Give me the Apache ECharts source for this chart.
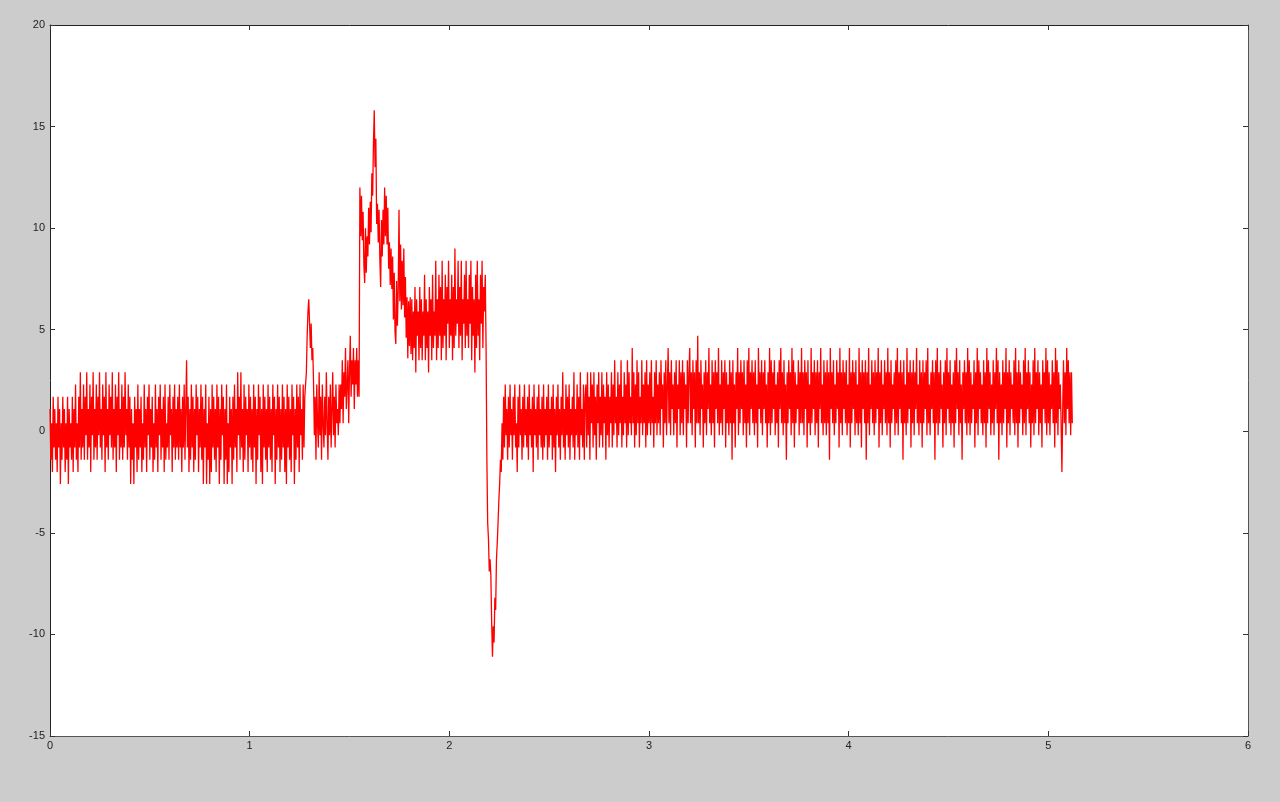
<!DOCTYPE html>
<html>
<head>
<meta charset="utf-8">
<script src="https://cdn.jsdelivr.net/npm/echarts@6/dist/echarts.min.js"></script>
<style>
html,body{margin:0;padding:0;background:#cccccc;}
#chart{width:1280px;height:802px;}
</style>
</head>
<body>
<div id="chart"></div>
<script>
// Sample period of the recorded signal (x axis units per sample)
const SAMPLE_DT = 0.004;

// Axis tick values
const xTicks = [0, 1, 2, 3, 4, 5, 6];
const yTicks = [-15, -10, -5, 0, 5, 10, 15, 20];

// Signal values
const baselineA = [
  1.1, -1.4, 0.4, -2.0, 1.7, -0.8, 1.1, -1.4, 0.4, -2.0,
  1.7, -0.8, 1.1, -2.6, 0.4, -1.4, 1.7, -0.8, 1.1, -2.0,
  0.4, -1.4, 1.7, -2.6, 1.1, -0.8, 0.4, -1.4, 1.7, -2.0,
  1.1, -0.8, 2.3, -1.4, 0.4, -2.0, 1.7, -0.8, 2.9, -1.4,
  1.1, -0.8, 2.3, -1.4, 1.7, -0.2, 2.9, -1.4, 1.1, -0.8,
  2.3, -2.0, 1.7, -0.2, 2.9, -1.4, 1.1, -0.8, 2.3, -1.4,
  1.7, -0.2, 2.9, -0.8, 1.1, -1.4, 2.3, -0.2, 1.7, -2.0,
  2.9, -0.8, 1.1, -1.4, 2.3, -0.2, 1.7, -0.8, 2.9, -1.4,
  1.1, -0.8, 2.3, -2.0, 1.7, -0.2, 2.9, -1.4, 1.1, -0.8,
  2.3, -1.4, 1.7, -0.8, 2.9, -0.2, 1.1, -1.4, 2.3, -0.8,
  1.7, -2.6, 1.1, -1.4, 0.4, -2.6, 1.7, -0.8, 1.1, -2.0,
  2.3, -1.4, 1.1, -0.8, 1.7, -2.0, 0.4, -1.4, 2.3, -0.8,
  1.1, -2.0, 1.7, -0.2, 2.3, -1.4, 1.1, -0.8, 1.7, -2.0,
  0.4, -1.4, 2.3, -0.8, 1.1, -2.0, 1.7, -0.2, 2.3, -1.4,
  1.1, -0.8, 1.7, -2.0, 2.3, -1.4, 0.4, -0.8, 1.7, -1.4,
  2.3, -0.2, 1.1, -2.0, 1.7, -0.8, 2.3, -1.4, 1.1, -0.8,
  1.7, -1.4, 2.3, -0.8, 1.1, -2.0, 1.7, -0.8, 2.3, -1.4,
  1.1, 3.5, -0.8, 1.7, -2.0, 1.1, -1.4, 2.3, -0.8, 1.7,
  -2.0, 1.1, -1.4, 2.3, -0.2, 1.7, -2.0, 1.1, -0.8, 2.3,
  -1.4, 1.7, -2.6, 1.1, -0.8, 2.3, -2.6, 0.4, -1.4, 1.7,
  -2.6, 1.1, -2.0, 2.3, -0.8, 1.7, -1.4, 1.1, -2.0, 2.3,
  -0.8, 1.7, -2.6, 1.1, -1.4, 2.3, -0.2, 1.7, -2.6, 1.1,
  -1.4, 2.3, -2.6, 0.4, -2.0, 1.7, -0.8, 1.1, -2.6, 1.7,
  -1.4, 2.3, -0.8, 1.1, -2.0, 2.9, -0.2, 1.7, -1.4, 2.9,
  -0.8, 1.1, -2.0, 2.3, -1.4, 1.7, -0.2, 1.1, -2.0, 2.3,
  -0.8, 1.7, -1.4, 1.1, -2.0, 2.3, -0.8, 1.7, -2.6, 1.1,
  -1.4, 2.3, -0.2, 1.7, -2.0, 1.1, -2.6, 2.3, -0.8, 1.7,
  -1.4, 1.1, -2.0, 2.3, -0.8, 1.7, -1.4, 1.1, -2.0, 2.3,
  -0.2, 1.7, -2.6, 1.1, -1.4, 2.3, -0.8, 1.7, -2.0, 1.1,
  -1.4, 2.3, -0.8, 1.7, -2.0, 1.1, -2.6, 2.3, -0.8, 1.7,
  -1.4, 1.1, -2.0, 2.3, -0.2, 1.7, -2.6, 1.1, -1.4, 2.3,
  -0.8, 1.7, -2.0, 2.3, -0.2, 1.1, -1.4, 2.3, -0.8, 1.7,
  2.3
];
const firstSpike = [2.9, 4.7, 5.9, 6.5, 5.3, 4.1, 5.3, 3.5, 4.1, 2.3];
const interval1 = [
  -0.2, 1.7, -1.4, 2.3, 0.4, -0.8, 2.9, -0.2, 1.7, -1.4,
  2.3, 0.4, -0.8, 1.7, -0.2, 2.9, 0.4, -1.4, 1.7, -0.2,
  2.3, -0.8, 1.1, 2.9, -0.2, 1.7, -0.8, 2.3, 0.4, 1.1,
  -0.2, 2.3
];
const riseB = [
  0.4, 2.3, 1.1, 3.5, 0.4, 2.9, 1.7, 4.1, 1.1, 2.3,
  3.5, 0.4, 2.9, 4.7, 1.7, 3.5, 2.3, 4.1, 1.1, 3.5,
  2.3, 4.1, 1.7, 3.5, 1.7
];
const peak = [
  12.0, 9.6, 11.6, 9.4, 10.8, 8.2, 7.3, 10.0, 7.8, 9.6,
  8.6, 11.0, 9.2, 11.3, 9.8, 12.7, 11.6, 14.2, 15.8, 13.0,
  14.4, 10.2, 11.2, 9.3, 10.9, 8.5, 7.1, 10.4, 8.6, 10.9,
  9.2, 12.0, 9.6, 11.6, 9.2, 11.0, 8.0, 9.3, 7.2, 9.0,
  7.0, 8.6, 5.5, 7.8, 4.9, 4.3, 7.4, 5.2, 7.0, 10.9,
  6.4, 9.2, 6.0, 8.4, 6.2, 9.0, 5.6, 7.6, 4.6, 6.6,
  3.6, 6.4, 4.2, 6.6, 3.8
];
const plateau = [
  6.5, 3.5, 5.9, 4.1, 7.1, 2.9, 6.5, 4.7, 5.9, 3.5,
  7.1, 4.1, 6.5, 3.5, 5.9, 4.7, 7.7, 3.5, 6.5, 4.1,
  5.9, 2.9, 7.1, 4.7, 6.5, 3.5, 7.7, 4.1, 5.9, 4.7,
  8.4, 3.5, 6.5, 4.1, 7.7, 4.7, 7.1, 3.5, 8.4, 4.1,
  6.5, 4.7, 7.7, 3.5, 7.1, 5.3, 8.4, 4.1, 6.5, 4.7,
  7.7, 3.5, 7.1, 4.1, 9.0, 4.7, 6.5, 5.3, 8.4, 4.1,
  7.1, 4.7, 8.4, 3.5, 6.5, 5.3, 7.7, 4.1, 8.4, 4.7,
  6.5, 4.1, 7.7, 5.3, 8.4, 3.5, 7.1, 4.7, 6.5, 2.9,
  7.7, 4.1, 8.4, 4.7, 6.5, 3.5, 7.7, 5.3, 8.4, 4.1,
  7.1, 5.9
];
const dip = [
  7.7, 4.1, -1.4, -4.5, -5.3, -6.9, -6.3, -7.1, -9.4, -11.1,
  -9.6, -10.4, -8.2, -8.8, -6.3, -5.5, -4.5, -3.4, -2.6, -1.4,
  -2.0, 0.4, -1.4
];
const recovery = [
  1.7, -0.8, 2.3, -0.2, 1.1, -1.4, 1.7, -0.8, 2.3, -0.2,
  1.1, -1.4, 1.7, -0.2, 2.3, -0.8, 0.4, -2.0, 1.7, -0.8,
  2.3, -0.2, 1.1, -1.4, 1.7, -0.8, 2.3, -0.2, 1.1, -0.8,
  1.7, -1.4, 2.3, -0.2, 1.1, -0.8, 1.7, -2.0, 2.3, -0.2,
  1.1, -0.8, 1.7, -1.4, 2.3, -0.2, 1.1, -0.8, 1.7, -1.4,
  2.3, -0.8, 1.1, -0.2, 1.7, -1.4, 2.3, -0.8, 1.1, -0.2,
  1.7, -1.4, 2.3, -0.8, 1.1, -2.0, 1.7, -0.2, 2.3, -0.8,
  1.1, -1.4, 1.7, -0.2, 2.9, -0.8, 1.1, -1.4, 2.3, -0.2,
  1.7, -0.8, 2.3, -1.4, 1.1, -0.2, 1.7, -0.8, 2.9, -1.4,
  1.1, -0.2, 2.3, -0.8, 1.7, -1.4, 2.9, -0.2, 1.1, -0.8,
  2.3, -1.4, 1.7
];
const drift = [
  2.3, -0.8, 2.9, -0.2, 1.7, -1.4, 2.9, 0.4, 2.3, -0.8,
  2.9, -0.2, 1.7, -1.4, 2.3, 0.4, 2.9, -0.8, 1.7, -0.2,
  2.9, -0.8, 2.3, 0.4, 1.7, -1.4, 2.9, -0.2, 2.3, -0.8,
  1.7, 0.4, 2.9, -0.8, 2.3, -0.2, 3.5, 0.4, 1.7, -0.8,
  2.9, -0.2, 2.3, 0.4, 3.5, -0.8, 1.7, -0.2, 2.9, 0.4,
  2.3, -0.8, 3.5, -0.2, 2.9, 0.4, 1.7, -0.2, 4.1, 0.4,
  2.9, -0.8, 2.3, -0.2, 3.5, 0.4, 2.9, -0.8, 1.7, 0.4,
  3.5, -0.2, 2.3, 0.4, 2.9, -0.8, 3.5, -0.2, 2.3, 0.4,
  2.9, -0.2, 3.5, 0.4, 1.7, -0.8, 2.9, 0.4, 3.5, -0.2,
  2.3, 0.4, 2.9, -0.2, 3.5, 1.1, 2.3, -0.8, 2.9, 0.4,
  3.5, -0.2, 2.3, 4.1, 0.4, 2.9, -0.2, 3.5, 1.1, 2.3,
  -0.2, 2.9, 0.4, 3.5, -0.8, 2.3, 1.1, 3.5, -0.2, 2.9,
  0.4, 3.5, -0.2, 2.9, 1.1, 2.3, -0.8, 3.5, 0.4, 2.9
];
const baselineC = [
  4.1, 0.4, 2.9, -0.2, 3.5, 1.1, 2.9, -0.8, 3.5, 0.4,
  4.7, 0.4, 2.9, -0.2, 3.5, 1.1, 2.3, -0.8, 2.9, 0.4,
  3.5, -0.2, 2.9, 1.1, 4.1, 0.4, 2.3, -0.2, 3.5, 0.4,
  2.9, -0.8, 3.5, 1.1, 2.9, 0.4, 4.1, -0.2, 2.3, 0.4,
  3.5, -0.2, 2.9, 1.1, 3.5, -0.8, 2.9, 0.4, 2.3, -0.2,
  3.5, 0.4, 2.9, -1.4, 3.5, 0.4, 2.3, -0.8, 2.9, 1.1,
  4.1, -0.2, 2.9, 0.4, 3.5, 1.1, 2.9, -0.2, 3.5, 0.4,
  2.3, -0.8, 3.5, 0.4, 4.1, -0.2, 2.9, 1.1, 3.5, 0.4,
  2.9, -0.2, 3.5, 0.4, 2.3, -0.8, 4.1, 1.1, 2.9, 0.4,
  3.5, -0.2, 2.9, 1.1, 3.5, 0.4, 2.3, -0.8, 2.9, 0.4,
  4.1, -0.2, 3.5, 0.4, 2.9, 1.1, 3.5, -0.2, 2.3, 0.4,
  2.9, -0.8, 3.5, 1.1, 4.1, 0.4, 2.9, -0.2, 3.5, 0.4,
  2.3, -1.4, 2.9, 0.4, 3.5, 1.1, 2.9, -0.2, 4.1, 0.4,
  3.5, -0.8, 2.9, 0.4, 2.3, 1.1, 3.5, -0.2, 2.9, 0.4,
  4.1, 0.4, 2.9, -0.2, 3.5, 1.1, 2.9, -0.8, 3.5, 0.4,
  2.3, -0.2, 4.1, 0.4, 2.9, 1.1, 3.5, -0.2, 2.9, 0.4,
  3.5, -0.8, 2.9, 1.1, 4.1, 0.4, 2.3, -0.2, 3.5, 0.4,
  2.9, -0.2, 3.5, 0.4, 2.9, -1.4, 4.1, 1.1, 2.9, 0.4,
  3.5, -0.2, 2.3, 0.4, 3.5, 1.1, 2.9, -0.8, 4.1, 0.4,
  2.9, -0.2, 3.5, 1.1, 2.9, 0.4, 3.5, -0.2, 2.3, 0.4,
  4.1, -0.8, 2.9, 0.4, 3.5, 1.1, 2.9, -0.2, 3.5, 0.4,
  2.3, -0.2, 4.1, 0.4, 2.9, -0.8, 3.5, 1.1, 2.9, 0.4,
  3.5, -1.4, 2.9, 0.4, 4.1, -0.2, 2.3, 1.1, 3.5, 0.4,
  2.9, -0.2, 3.5, 0.4, 2.9, 1.1, 4.1, -0.8, 2.9, 0.4,
  3.5, -0.2, 2.3, 1.1, 3.5, 0.4, 2.9, -0.2, 4.1, 0.4,
  2.9, -0.8, 3.5, 0.4, 2.3, 1.1, 2.9, -0.2, 3.5, 0.4,
  4.1, -0.2, 2.9, 1.1, 3.5, 0.4, 2.9, -1.4, 3.5, 0.4,
  2.3, -0.2, 4.1, 0.4, 2.9, 1.1, 3.5, -0.8, 2.9, 0.4,
  3.5, -0.2, 2.9, 1.1, 4.1, 0.4, 2.3, -0.2, 3.5, 0.4,
  2.9, -0.8, 3.5, 0.4, 2.9, 1.1, 3.5, -0.2, 4.1, 0.4,
  2.3, -0.2, 2.9, 1.1, 3.5, 0.4, 2.9, -1.4, 3.5, 0.4,
  4.1, -0.2, 2.9, 0.4, 3.5, 1.1, 2.3, -0.8, 2.9, 0.4,
  3.5, -0.2, 4.1, 1.1, 2.9, 0.4, 3.5, -0.2, 2.3, 0.4,
  2.9, -0.8, 3.5, 0.4, 4.1, 1.1, 2.9, -0.2, 3.5, 0.4,
  2.3, -1.4, 2.9, 1.1, 3.5, 0.4, 2.9, -0.2, 4.1, 0.4,
  3.5, -0.2, 2.9, 0.4, 2.3, 1.1, 3.5, -0.8, 2.9, 0.4,
  4.1, -0.2, 3.5, 1.1, 2.9, 0.4, 2.3, -0.2, 3.5, 0.4,
  2.9, -0.8, 4.1, 0.4, 3.5, 1.1, 2.9, -0.2, 2.3, 0.4,
  3.5, -0.2, 2.9, 1.1, 4.1, 0.4, 3.5, -1.4, 2.9, 0.4,
  2.3, -0.2, 3.5, 0.4, 2.9, 1.1, 4.1, -0.8, 2.9, 0.4,
  3.5, -0.2, 2.9, 1.1, 2.3, 0.4, 3.5, -0.2, 4.1, 0.4,
  2.9, -0.8, 3.5, 0.4, 2.9, 1.1, 2.3, -0.2, 3.5, 0.4,
  4.1, -0.2, 2.9, 1.1, 3.5, 0.4, 2.9, -0.8, 2.3, 0.4,
  3.5, -0.2, 4.1, 0.4, 2.9, 1.1, 3.5, -0.2, 2.9, 0.4,
  2.3, -0.8, 3.5, 1.1, 2.9, 0.4, 4.1, -0.2, 3.5, 0.4,
  2.9, -0.2, 2.3, 1.1, 3.5, 0.4, 2.9, -0.8, 4.1, 0.4,
  3.5, -0.2, 2.9, 1.1, 2.3, 0.4, -2.0, 1.1, 3.5, 0.4,
  2.9, -0.2, 4.1, 1.1, 3.5, 0.4, 2.9, -0.2, 2.9, 0.4
];

const signal = [].concat(baselineA, firstSpike, interval1, riseB, peak, plateau, dip, recovery, drift, baselineC);
const seriesData = signal.map((v, i) => [+(i * SAMPLE_DT).toFixed(4), v]);

const labelStyle = { fontFamily: 'Liberation Sans, Arial, sans-serif', fontSize: 11, color: '#222' };
const chart = echarts.init(document.getElementById('chart'), null, { renderer: 'canvas' });
chart.setOption({
  animation: false,
  backgroundColor: '#cccccc',
  grid: { left: 50, top: 25, right: 32, bottom: 66, show: true, backgroundColor: '#ffffff', borderWidth: 0 },
  xAxis: [
    {
      type: 'value', min: xTicks[0], max: xTicks[xTicks.length - 1], interval: 1, position: 'bottom',
      axisLine: { show: true, onZero: false, lineStyle: { color: '#555', width: 1 } },
      axisTick: { show: true, inside: true, length: 5, lineStyle: { color: '#333' } },
      axisLabel: Object.assign({ margin: 4 }, labelStyle),
      splitLine: { show: false }
    },
    {
      type: 'value', min: xTicks[0], max: xTicks[xTicks.length - 1], interval: 1, position: 'top',
      axisLine: { show: true, onZero: false, lineStyle: { color: '#222', width: 1 } },
      axisTick: { show: true, inside: true, length: 5, lineStyle: { color: '#333' } },
      axisLabel: { show: false },
      splitLine: { show: false }
    }
  ],
  yAxis: [
    {
      type: 'value', min: yTicks[0], max: yTicks[yTicks.length - 1], interval: 5, position: 'left',
      axisLine: { show: true, onZero: false, lineStyle: { color: '#222', width: 1 } },
      axisTick: { show: true, inside: true, length: 5, lineStyle: { color: '#333' } },
      axisLabel: Object.assign({ margin: 5 }, labelStyle),
      splitLine: { show: false }
    },
    {
      type: 'value', min: yTicks[0], max: yTicks[yTicks.length - 1], interval: 5, position: 'right',
      axisLine: { show: true, onZero: false, lineStyle: { color: '#555', width: 1 } },
      axisTick: { show: true, inside: true, length: 5, lineStyle: { color: '#333' } },
      axisLabel: { show: false },
      splitLine: { show: false }
    }
  ],
  series: [{
    type: 'line',
    xAxisIndex: 0,
    yAxisIndex: 0,
    data: seriesData,
    showSymbol: false,
    symbol: 'none',
    sampling: null,
    lineStyle: { color: '#ff0000', width: 1.3 },
    emphasis: { disabled: true }
  }]
});
</script>
</body>
</html>
